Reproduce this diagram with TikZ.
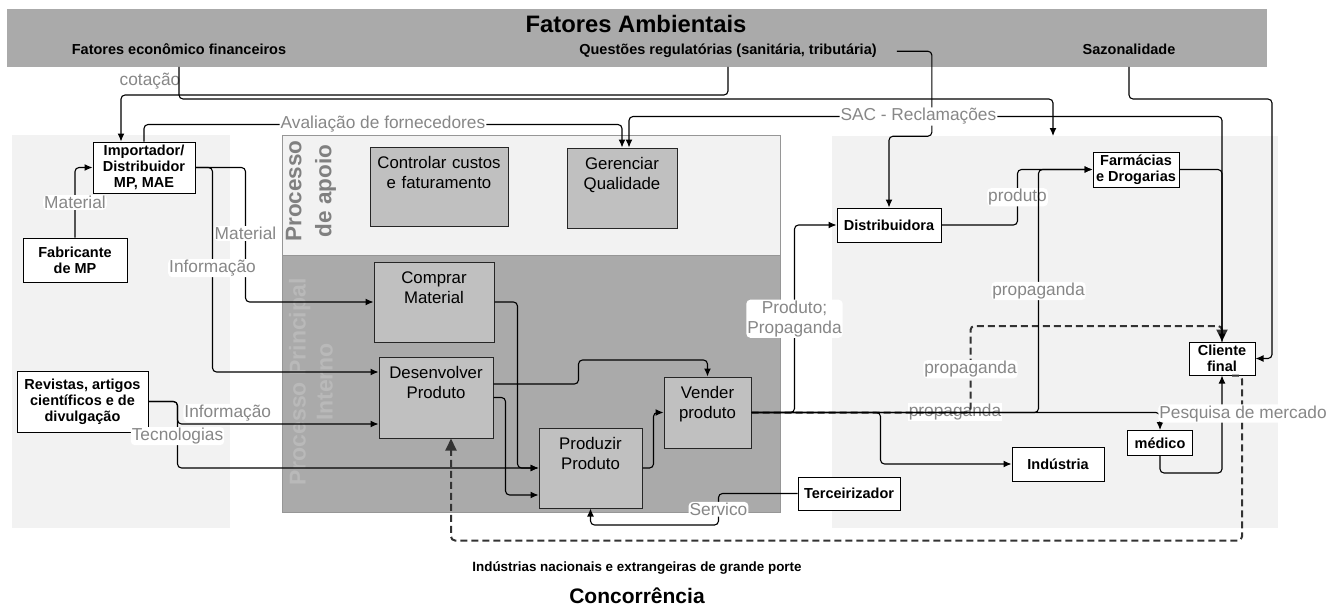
\documentclass[tikz,border=0pt]{standalone}
\usepackage{fontspec}
\setmainfont{Liberation Sans}
\usetikzlibrary{arrows.meta,positioning}
\definecolor{envgray}{RGB}{170,170,170}
\definecolor{areagray}{RGB}{242,242,242}
\definecolor{procgray}{RGB}{192,192,192}
\definecolor{lblgray}{RGB}{135,135,135}
\definecolor{bordergray}{RGB}{150,150,150}
\definecolor{apoiotext}{RGB}{128,128,128}
\definecolor{princtext}{RGB}{185,185,185}
\definecolor{dashgray}{RGB}{51,51,51}

\begin{document}
\begin{tikzpicture}[x=1pt,y=-1pt,
  area/.style={inner sep=0pt,outer sep=0pt,draw=none},
  bandtxt/.style={anchor=base,inner sep=0pt,font=\bfseries\fontsize{14.5}{17}\selectfont},
  proc/.style={draw=black!85,line width=1pt,fill=procgray,align=center,
    inner xsep=2pt,inner ysep=0pt,text height=21pt,font=\fontsize{16.8}{20}\selectfont},
  actor/.style={draw,line width=1pt,fill=white,align=center,inner sep=0pt,
    font=\bfseries\fontsize{14.5}{16}\selectfont},
  lbl/.style={fill=white,text=lblgray,inner sep=1pt,align=center,
    font=\fontsize{17.3}{20}\selectfont},
  flow/.style={-{Latex[length=8pt,width=7pt]},line width=1.1pt,rounded corners=4pt},
  dflow/.style={-{Triangle[length=12pt,width=11pt]},line width=2pt,draw=dashgray,
    dash pattern=on 7pt off 4pt,rounded corners=4pt}]
\useasboundingbox (0,0) rectangle (1341,610);
\node[area,fill=envgray,minimum width=1260pt,minimum height=58pt] (env) at (637,38) {};
\node[area,fill=areagray,minimum width=218pt,minimum height=393pt] (fornec) at (121,331.5) {};
\node[area,fill=areagray,draw=bordergray,minimum width=498pt,minimum height=120pt] (apoio) at (531,195) {};
\node[area,fill=envgray,draw=bordergray,minimum width=498pt,minimum height=257pt] (principal) at (531,383.5) {};
\node[area,fill=areagray,minimum width=446pt,minimum height=392pt] (mercado) at (1055,332) {};
\node[rotate=90,align=center,text=apoiotext,
  font=\bfseries\fontsize{22.5}{30}\selectfont] (tapoio) at (311,191) {Processo\\de apoio};
\node[rotate=90,align=center,text=princtext,
  font=\bfseries\fontsize{23}{27}\selectfont] (tprinc) at (311,382) {Processo Principal\\Interno};
\node[anchor=base,inner sep=0pt,font=\bfseries\fontsize{23.8}{27}\selectfont] (ambiente) at (636,33) {Fatores Ambientais};
\node[bandtxt] (ecofin) at (179,55) {Fatores econômico financeiros};
\node[bandtxt] (questoes) at (728,55) {Questões regulatórias (sanitária, tributária)};
\node[bandtxt] (sazon) at (1129,55) {Sazonalidade};
\node[anchor=base,inner sep=0pt,font=\bfseries\fontsize{13.4}{15}\selectfont] (indnac) at (637,571)
  {Indústrias nacionais e extrangeiras de grande porte};
\node[anchor=base,inner sep=0pt,font=\bfseries\fontsize{21}{24}\selectfont] (concorrencia) at (637,603) {Concorrência};
\node[actor,minimum width=102pt,minimum height=51pt] (importador) at (144,167.5) {Importador/\\Distribuidor\\MP, MAE};
\node[actor,minimum width=104pt,minimum height=44pt] (fabricante) at (75,260) {Fabricante\\de MP};
\node[actor,minimum width=131pt,minimum height=61pt] (revistas) at (82.5,401.5)
  {Revistas, artigos\\científicos e de\\divulgação};
\node[proc,text width=134pt,text depth=58pt] (controlar) at (439,186.5) {Controlar custos\\e faturamento};
\node[proc,text width=106pt,text depth=59pt] (gerenciar) at (622,188) {Gerenciar\\Qualidade};
\node[proc,text width=116pt,text depth=59pt] (comprar) at (434,302) {Comprar\\Material};
\node[proc,text width=110pt,text depth=60pt] (desenvolver) at (436,397.5) {Desenvolver\\Produto};
\node[proc,text width=99pt,text depth=59pt] (produzir) at (590.5,468) {Produzir\\Produto};
\node[proc,text width=83pt,text depth=50pt] (vender) at (707.5,412.5) {Vender\\produto};
\node[actor,minimum width=104pt,minimum height=34pt] (distribuidora) at (889,225) {Distribuidora};
\node[actor,minimum width=86pt,minimum height=35pt] (farmacias) at (1136,169.5) {Farmácias\\e Drogarias};
\node[actor,minimum width=66pt,minimum height=33pt] (cliente) at (1222,358.5) {Cliente\\final};
\node[actor,minimum width=65pt,minimum height=25pt] (medico) at (1160,443) {médico};
\node[actor,minimum width=92pt,minimum height=34pt] (industria) at (1058,464) {Indústria};
\node[actor,minimum width=102pt,minimum height=33pt] (terceirizador) at (849,493.5) {Terceirizador};
\node[lbl] (cotacao) at (150,81) {cotação};
\node[lbl] (propmed) at (955,412) {propaganda};
\draw[dflow] (vender.east) -- ++(219,0) -- node[lbl]{propaganda} ++(0,-86.5) -| (cliente.north);
\draw[dflow] ([xshift=10pt]cliente.south) -- ++(10,0) -- ++(0,165) -| ([xshift=15pt]desenvolver.south);
\draw[flow] (questoes.south |- env.south) -- ++(0,28) -| ([xshift=-23pt]importador.north);
\draw[flow] (ecofin.south |- env.south) -- ++(0,32) -| ([xshift=-2pt]mercado.north);
\draw[flow] ([xshift=20pt]questoes.east) -- ++(35,0) -- ++(0,85) -| (distribuidora.north);
\draw[flow] (sazon.south |- env.south) -- ++(0,32) -- ++(143,0) |- (cliente.east);
\draw[flow] (importador.north) -- ++(0,-17) -| node[lbl,pos=.25]{Avaliação de fornecedores} (gerenciar.north);
\draw[flow] (cliente.north) -- ++(0,-225) -| node[lbl,pos=.256]{SAC - Reclamações} ([xshift=7pt]gerenciar.north);
\draw[flow] (fabricante.north) |- node[lbl,pos=.25]{Material} (importador.west);
\draw[flow] (importador.east) -- ++(50,0) |- node[lbl,pos=.245]{Material} (comprar.west);
\draw[flow] (importador.east) -- ++(17,0) |- node[lbl,pos=.246]{Informação} ([yshift=25.5pt]desenvolver.west);
\draw[flow] (revistas.east) -- ++(29,0) |- node[lbl,pos=.625,yshift=11pt]{Informação} ([yshift=-26.5pt]desenvolver.west);
\draw[flow] (revistas.east) -- ++(29,0) |- node[lbl,pos=.26]{Tecnologias} (produzir.west);
\draw[flow] (comprar.east) -- ++(23,0) |- (produzir.west);
\draw[flow] (desenvolver.east) -- ++(12,0) |- ([yshift=-27pt]produzir.west);
\draw[flow] ([yshift=13.5pt]desenvolver.east) -- ++(85,0) -- ++(0,-24) -| (vender.north);
\draw[flow] (produzir.east) -- ++(11,0) |- (vender.west);
\draw[flow] (terceirizador.west) -- ++(-79,0) -- node[lbl]{Servico} ++(0,31.5) -| (produzir.south);
\draw[flow] (vender.east) -- ++(43,0) |- node[lbl,pos=.25]{Produto;\\Propaganda} (distribuidora.west);
\draw[flow] (vender.east) -- ++(129,0) |- (industria.west);
\draw[flow] (distribuidora.east) -- ++(76,0) |- node[lbl,pos=.25]{produto} (farmacias.west);
\draw[flow] (vender.east) -- ++(287,0) |- node[lbl,pos=.25]{propaganda} (farmacias.west);
\draw[flow] (vender.east) -| (medico.north);
\draw[flow] (farmacias.east) -| (cliente.north);
\draw[flow] (medico.south) -- ++(0,17) -| node[lbl,pos=.805,xshift=21pt]{Pesquisa de mercado} (cliente.south);
\end{tikzpicture}
\end{document}
